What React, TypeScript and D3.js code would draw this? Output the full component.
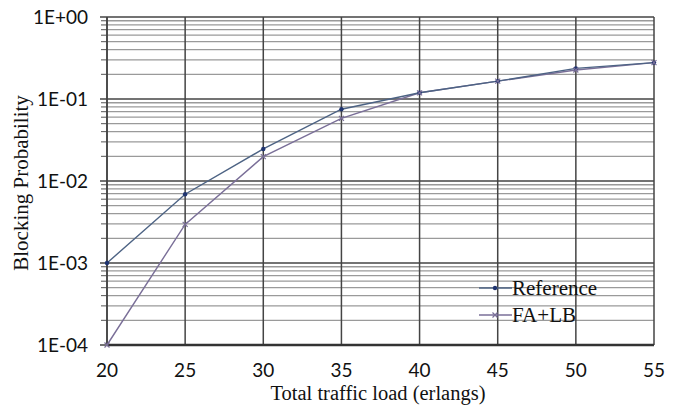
import React from "react";
import * as d3 from "d3";

const loads = [20, 25, 30, 35, 40, 45, 50, 55];
const referenceValues = [1e-3, 6.9e-3, 2.46e-2, 7.5e-2, 1.19e-1, 1.65e-1, 2.36e-1, 2.78e-1];
const faLbValues = [1e-4, 2.96e-3, 1.98e-2, 5.8e-2, 1.19e-1, 1.65e-1, 2.26e-1, 2.78e-1];
const seriesNames = ["Reference", "FA+LB"];
const xTicks = [20, 25, 30, 35, 40, 45, 50, 55];
const yTickLabels = ["1E+00", "1E-01", "1E-02", "1E-03", "1E-04"];
const yTickValues = [1, 1e-1, 1e-2, 1e-3, 1e-4];

const W = 684, H = 409;
const M = { left: 107, right: 30, top: 17, bottom: 64 };

export default function App() {
  const x = d3.scaleLinear().domain([20, 55]).range([M.left, W - M.right]);
  const y = d3.scaleLog().domain([1e-4, 1]).range([H - M.bottom, M.top]);

  const minor: number[] = [];
  for (let e = -4; e < 0; e++) {
    for (let k = 2; k <= 9; k++) minor.push(k * Math.pow(10, e));
  }

  const line = d3.line<number>().x((_, i) => x(loads[i])).y((d) => y(d));
  const refColor = "#4d6384";
  const refMarker = "#1f3470";
  const faColor = "#7a6f98";

  const legX = 479, legY1 = 288, legY2 = 315;
  const tickFont = "Lato, 'Open Sans', sans-serif";
  const serif = "'Liberation Serif', serif";

  return (
    <svg width={W} height={H} style={{ position: "absolute", left: 0, top: 0, background: "#fff" }}>
      <rect x={0} y={0} width={W} height={H} fill="#fff" />
      {minor.map((v, i) => (
        <g key={"m" + i}>
          <line x1={M.left} x2={W - M.right} y1={y(v)} y2={y(v)} stroke="#9a9a9a" strokeWidth={1.3} />
          <line x1={M.left - 6} x2={M.left} y1={y(v)} y2={y(v)} stroke="#555" strokeWidth={1} />
        </g>
      ))}
      {yTickValues.map((v, i) => (
        <line key={"M" + i} x1={M.left - 7} x2={W - M.right} y1={y(v)} y2={y(v)} stroke="#444" strokeWidth={1.6} />
      ))}
      {xTicks.map((t, i) => (
        <line key={"v" + i} x1={x(t)} x2={x(t)} y1={M.top} y2={H - M.bottom} stroke="#444" strokeWidth={1.5} />
      ))}
      <line x1={M.left} x2={W - M.right} y1={H - M.bottom} y2={H - M.bottom} stroke="#333" strokeWidth={2.5} />
      <line x1={M.left} x2={M.left} y1={M.top} y2={H - M.bottom} stroke="#444" strokeWidth={1.6} />

      {yTickValues.map((v, i) => (
        <text key={"yt" + i} x={M.left - 19} y={y(v)} dy="0.36em" textAnchor="end"
          fontFamily={tickFont} fontSize={19} fill="#111">{yTickLabels[i]}</text>
      ))}
      {xTicks.map((t, i) => (
        <text key={"xt" + i} x={x(t)} y={377} textAnchor="middle"
          fontFamily={tickFont} fontSize={19} fill="#111">{t}</text>
      ))}

      <path d={line(faLbValues) || ""} fill="none" stroke={faColor} strokeWidth={1.4} />
      <path d={line(referenceValues) || ""} fill="none" stroke={refColor} strokeWidth={1.4} />
      {referenceValues.map((v, i) => (
        <circle key={"rp" + i} cx={x(loads[i])} cy={y(v)} r={2.2} fill={refMarker} />
      ))}
      {faLbValues.map((v, i) => (
        <path key={"fp" + i} d={`M${x(loads[i]) - 2.5},${y(v) - 2.5}L${x(loads[i]) + 2.5},${y(v) + 2.5}M${x(loads[i]) - 2.5},${y(v) + 2.5}L${x(loads[i]) + 2.5},${y(v) - 2.5}`}
          stroke={faColor} strokeWidth={1.2} />
      ))}

      <line x1={legX} x2={legX + 33} y1={legY1} y2={legY1} stroke={refColor} strokeWidth={1.4} />
      <circle cx={legX + 16} cy={legY1} r={2.2} fill={refMarker} />
      <text x={legX + 33} y={legY1} dy="0.35em" fontFamily={serif} fontSize={21} fill="#111">{seriesNames[0]}</text>
      <line x1={legX} x2={legX + 33} y1={legY2} y2={legY2} stroke={faColor} strokeWidth={1.4} />
      <path d={`M${legX + 13.5},${legY2 - 2.5}L${legX + 18.5},${legY2 + 2.5}M${legX + 13.5},${legY2 + 2.5}L${legX + 18.5},${legY2 - 2.5}`} stroke={faColor} strokeWidth={1.2} />
      <text x={legX + 33} y={legY2} dy="0.35em" fontFamily={serif} fontSize={21} fill="#111">{seriesNames[1]}</text>

      <text x={378} y={400} textAnchor="middle"
        fontFamily={serif} fontSize={20.5} fill="#111">Total traffic load (erlangs)</text>
      <text transform={`translate(28,183) rotate(-90)`} textAnchor="middle"
        fontFamily={serif} fontSize={21} fill="#111">Blocking Probability</text>
    </svg>
  );
}
